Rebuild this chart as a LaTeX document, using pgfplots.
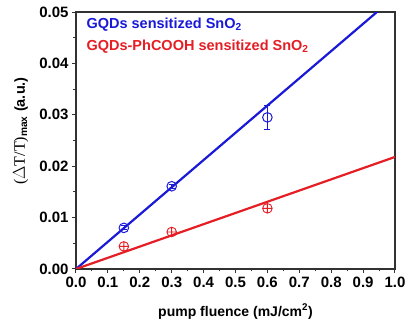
\documentclass[border=0pt]{standalone}
\usepackage{pgfplots}
\pgfplotsset{compat=1.18}
\usepackage{fontspec}
\setmainfont{Liberation Sans}
\newfontfamily\seriffont{Liberation Serif}
\definecolor{myblue}{RGB}{25,25,215}
\definecolor{myred}{RGB}{228,30,36}
\definecolor{frame}{RGB}{50,50,50}
\begin{document}
\begin{tikzpicture}
\useasboundingbox (-76pt,-52pt) rectangle (332pt,269pt);
\begin{axis}[
  at={(0,0)}, anchor=south west,
  scale only axis, width=319pt, height=257pt,
  xmin=0, xmax=1.0, ymin=0, ymax=0.05,
  xtick={0,0.1,...,1.0}, ytick={0,0.01,...,0.05},
  minor x tick num=1, minor y tick num=1,
  xtick pos=bottom, ytick pos=left,
  tick align=outside,
  major tick length=4pt, minor tick length=2.5pt,
  every tick/.style={frame, line width=1pt},
  axis line style={frame, line width=1.4pt},
  /pgf/number format/assume math mode=true,
  xticklabel style={font=\fontsize{15}{17}\selectfont\bfseries, /pgf/number format/.cd, fixed, fixed zerofill, precision=1},
  yticklabel style={font=\fontsize{15}{17}\selectfont\bfseries, /pgf/number format/.cd, fixed, fixed zerofill, precision=2},
  scaled y ticks=false,
  xlabel={\bfseries pump fluence (mJ/cm\textsuperscript{2})},
  xlabel style={font=\fontsize{14}{16}\selectfont, yshift=-10pt},
  ylabel={{\seriffont\fontsize{16}{18}\selectfont($\Delta$T/T)}\textsubscript{\bfseries max} \bfseries(a.u.)},
  ylabel style={font=\fontsize{14.5}{16}\selectfont, at={(ticklabel cs:0.537)}, yshift=4pt},
  clip=true,
]
\addplot[myblue, line width=2.2pt, no marks] coordinates {(0,0) (1.0,0.0530)};
\addplot[myred, line width=2.2pt, no marks] coordinates {(0,0) (1.0,0.0218)};
\addplot[myblue, only marks, mark=o, mark size=4.8pt, line width=1pt,
  error bars/.cd, y dir=both, y explicit, error mark options={rotate=90, mark size=3pt, line width=1pt}]
  coordinates {(0.15,0.0080) +- (0,0.0004) (0.30,0.0161) +- (0,0.0004) (0.60,0.0295) +- (0,0.0023)};
\addplot[myred, only marks, mark=oplus, mark size=4.8pt, line width=0.9pt, mark options={fill=myred!25}]
  coordinates {(0.15,0.0044) (0.30,0.0072) (0.60,0.0118)};
\node[anchor=west, text=myblue, font=\fontsize{14.5}{16}\selectfont\bfseries] at (axis cs:0.022,0.0475) {GQDs sensitized SnO\textsubscript{2}};
\node[anchor=west, text=myred, font=\fontsize{14.5}{16}\selectfont\bfseries] at (axis cs:0.022,0.0432) {GQDs-PhCOOH sensitized SnO\textsubscript{2}};
\end{axis}
\end{tikzpicture}
\end{document}
